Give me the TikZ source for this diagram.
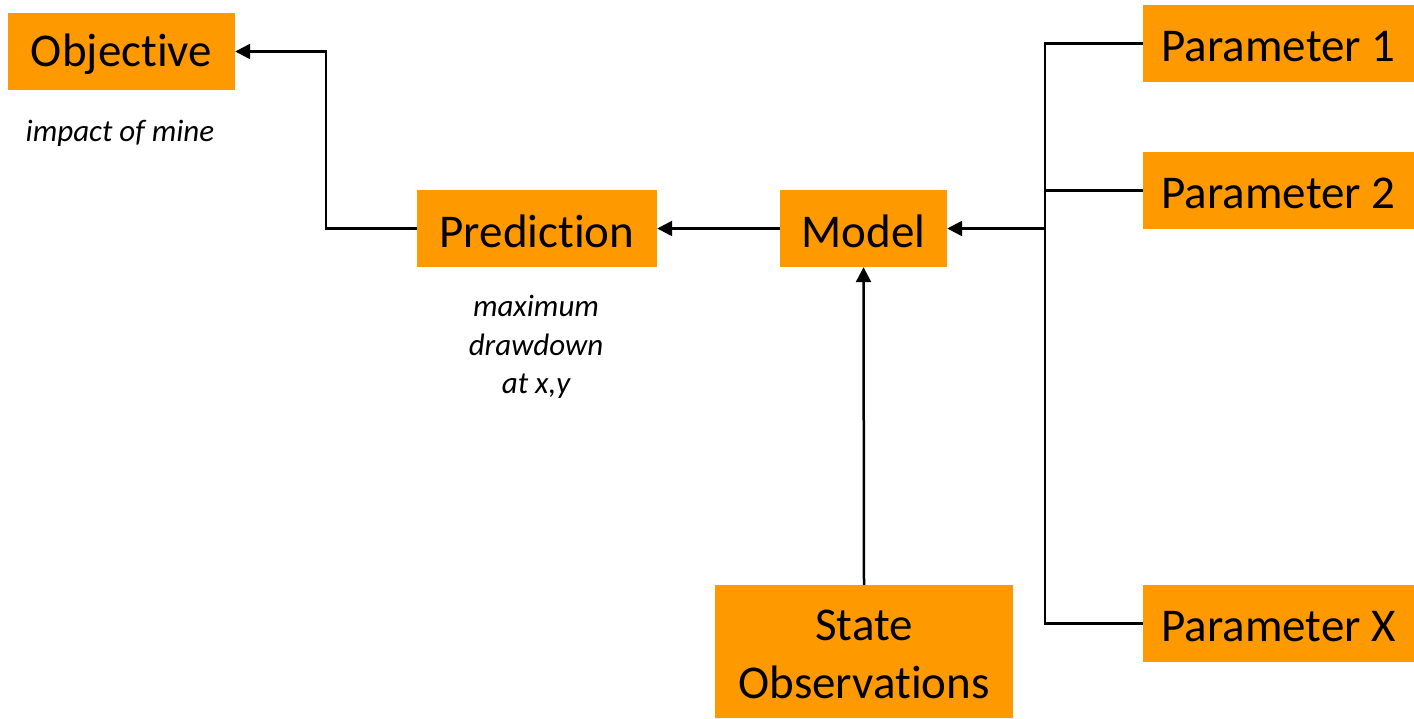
\documentclass[tikz,border=0pt]{standalone}
\usepackage{fontspec}
\setmainfont[Ligatures=NoCommon,Contextuals=NoAlternate,RawFeature={-liga;-clig;-dlig}]{Carlito}
\usetikzlibrary{arrows.meta}
\definecolor{boxorange}{HTML}{FF9900}
\newcommand{\lowertxt}[1]{\raisebox{-3pt}[\height][\depth]{#1}}
\tikzset{
  box/.style={fill=boxorange, draw=none, inner sep=0pt, align=center, font=\fontsize{47}{58}\selectfont},
  note/.style={inner sep=0pt, align=center, font=\fontsize{31}{38.5}\selectfont\itshape},
  conn/.style={line width=2.5pt, draw=black},
  arr/.style={conn, -{Triangle[length=15pt,width=15pt]}}
}
\begin{document}
\begin{tikzpicture}[x=1pt,y=-1pt]
\useasboundingbox (0,0) rectangle (1414,718);
\node[box, minimum width=227pt, minimum height=77pt] (obj) at (121.5,51.5) {\lowertxt{Objective}};
\node[box, minimum width=240pt, minimum height=77pt] (pred) at (537,228.5) {\lowertxt{Prediction}};
\node[box, minimum width=167pt, minimum height=77pt] (model) at (863.5,228.5) {\lowertxt{Model}};
\node[box, minimum width=298pt, minimum height=133pt] (state) at (864,651.5) {\lowertxt{State}\\\lowertxt{Observations}};
\node[box, minimum width=271pt, minimum height=77pt] (p1) at (1278.5,43.5) {\lowertxt{Parameter 1}};
\node[box, minimum width=271pt, minimum height=77pt] (p2) at (1278.5,190.5) {\lowertxt{Parameter 2}};
\node[box, minimum width=271pt, minimum height=77pt] (px) at (1278.5,623.5) {\lowertxt{Parameter X}};
\node[note] (impact) at (120,133) {impact of mine};
\node[note] (maxdd) at (536,347) {maximum\\drawdown\\at x,y};
\coordinate (bend) at (326,228.5);
\coordinate (busm) at (1045,228.5);
\coordinate (bus1) at (1045,43.5);
\coordinate (bus2) at (1045,190.5);
\coordinate (busx) at (1045,623.5);
\draw[conn] (p1.west) -- (bus1) -- (busx) -- (px.west);
\draw[conn] (p2.west) -- (bus2);
\draw[arr] (busm) -- (model.east);
\draw[arr] (model.west) -- (pred.east);
\draw[arr] (state.north) -- (model.south);
\draw[arr] (pred.west) -- (bend) |- (obj.east);
\end{tikzpicture}
\end{document}
